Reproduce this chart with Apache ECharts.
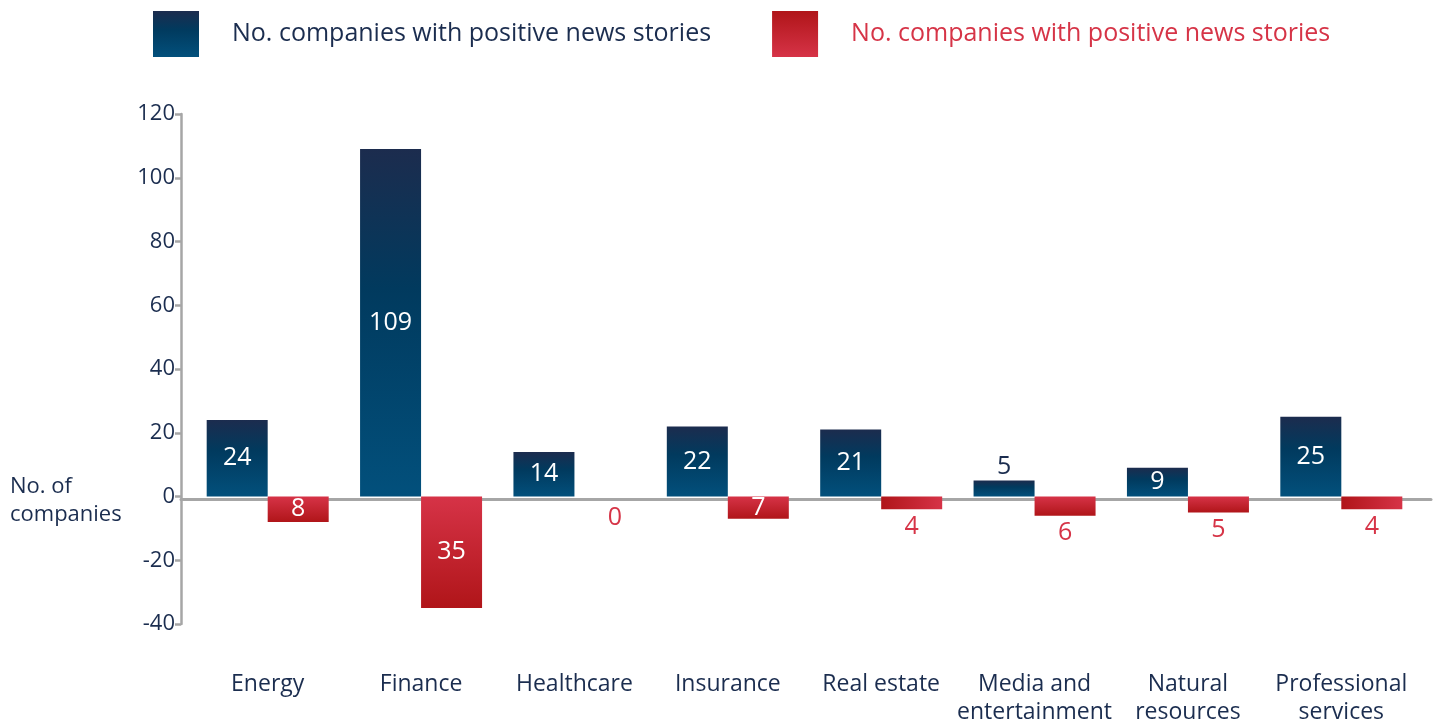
<!DOCTYPE html>
<html>
<head>
<meta charset="utf-8">
<script src="https://cdn.jsdelivr.net/npm/echarts@6/dist/echarts.min.js"></script>
<style>
  html, body { margin: 0; padding: 0; background: #ffffff; }
  #chart { width: 1437px; height: 726px; }
</style>
</head>
<body>
<div id="chart"></div>
<script>
// Sectors along the category axis
const categories = ['Energy', 'Finance', 'Healthcare', 'Insurance', 'Real estate',
  'Media and\nentertainment', 'Natural\nresources', 'Professional\nservices'];
// Companies with stories above the zero line
const positiveCounts = [24, 109, 14, 22, 21, 5, 9, 25];
// Companies with stories below the zero line (drawn as negatives)
const negativeCounts = [8, 35, 0, 7, 4, 6, 5, 4];
// Legend wording for the two series
const legendLabels = ['No. companies with positive news stories', 'No. companies with positive news stories'];
// Value axis ticks
const yTicks = [-40, -20, 0, 20, 40, 60, 80, 100, 120];

const NAVY = '#1b2d4f';
const RED = '#d63447';
const FONT = '"Open Sans", sans-serif';

const blueFill = new echarts.graphic.LinearGradient(0, 0, 0, 1, [
  { offset: 0, color: '#1c2c4e' },
  { offset: 0.4, color: '#013a5e' },
  { offset: 1, color: '#02507c' }
]);
const redFill = new echarts.graphic.LinearGradient(0, 0, 0, 1, [
  { offset: 0, color: '#d63347' },
  { offset: 1, color: '#b01519' }
]);
const redFillSideways = new echarts.graphic.LinearGradient(0, 0, 1, 0, [
  { offset: 0, color: '#b01519' },
  { offset: 1, color: '#d63347' }
]);
const redLegendFill = new echarts.graphic.LinearGradient(0, 0, 0, 1, [
  { offset: 0, color: '#b01519' },
  { offset: 1, color: '#d63347' }
]);

const labelFont = { fontFamily: FONT, fontSize: 25 };

const positiveData = positiveCounts.map(v => {
  const small = v < 8;
  return {
    value: v,
    label: small
      ? { show: true, position: 'top', distance: 1, color: NAVY, ...labelFont }
      : { show: true, position: 'inside', color: '#ffffff', ...labelFont }
  };
});

const negativeData = negativeCounts.map(v => {
  const inside = v >= 7;
  const item = {
    value: -v,
    label: inside
      ? { show: true, position: 'inside', color: '#ffffff', ...labelFont }
      : {
          show: true, position: 'bottom', distance: v === 0 ? 9 : 5,
          offset: v === 0 ? [10, 0] : [0, 0], color: RED, ...labelFont
        }
  };
  if (v === 4) item.itemStyle = { color: redFillSideways };
  return item;
});

const chart = echarts.init(document.getElementById('chart'), null, { renderer: 'canvas' });

chart.setOption({
  animation: false,
  textStyle: { fontFamily: FONT },
  title: {
    text: 'No. of\ncompanies',
    left: 10,
    top: 473,
    padding: 0,
    textStyle: { fontFamily: FONT, fontSize: 22, fontWeight: 'normal', color: NAVY, lineHeight: 28 }
  },
  legend: {
    left: 153,
    top: 11,
    padding: 0,
    itemWidth: 46,
    itemHeight: 46,
    itemGap: 61,
    icon: 'rect',
    formatter: name => (name === 'pos' ? legendLabels[0] : legendLabels[1]),
    data: [
      { name: 'pos', textStyle: { color: NAVY }, itemStyle: { color: blueFill } },
      { name: 'neg', textStyle: { color: RED }, itemStyle: { color: redLegendFill } }
    ],
    textStyle: { fontFamily: FONT, fontSize: 25, padding: [0, 0, 0, 28] }
  },
  grid: [
    { left: 191, right: 19, top: 114, bottom: 99 },
    { left: 181, right: 6, top: 114, bottom: 99 }
  ],
  xAxis: [
    {
      type: 'category',
      gridIndex: 0,
      data: categories,
      axisLine: { show: false, onZero: false },
      axisTick: { show: false },
      axisLabel: { color: NAVY, fontFamily: FONT, fontSize: 23, lineHeight: 28, margin: 46, interval: 0 }
    },
    {
      type: 'category',
      gridIndex: 1,
      data: [''],
      axisLine: { show: true, onZero: true, lineStyle: { color: '#a6a6a6', width: 3 } },
      axisTick: { show: false },
      axisLabel: { show: false }
    }
  ],
  yAxis: [
    {
      type: 'value',
      gridIndex: 0,
      min: yTicks[0],
      max: yTicks[yTicks.length - 1],
      interval: yTicks[1] - yTicks[0],
      offset: 10,
      axisLine: { show: true, lineStyle: { color: '#a6a6a6', width: 2.5 } },
      axisTick: { show: true, length: 6, lineStyle: { color: '#a6a6a6', width: 2.5 } },
      splitLine: { show: false },
      axisLabel: { color: NAVY, fontFamily: FONT, fontSize: 22, margin: 6 }
    },
    {
      type: 'value',
      gridIndex: 1,
      min: yTicks[0],
      max: yTicks[yTicks.length - 1],
      show: false
    }
  ],
  series: [
    {
      name: 'pos',
      type: 'bar',
      xAxisIndex: 0,
      yAxisIndex: 0,
      barWidth: 61,
      barGap: '0%',
      itemStyle: { color: blueFill },
      label: { formatter: p => String(Math.abs(p.value)) },
      data: positiveData,
      z: 1
    },
    {
      name: 'neg',
      type: 'bar',
      xAxisIndex: 0,
      yAxisIndex: 0,
      barWidth: 61,
      barGap: '0%',
      itemStyle: { color: redFill },
      label: { formatter: p => String(Math.abs(p.value)) },
      data: negativeData,
      z: 1
    }
  ]
});
</script>
</body>
</html>
